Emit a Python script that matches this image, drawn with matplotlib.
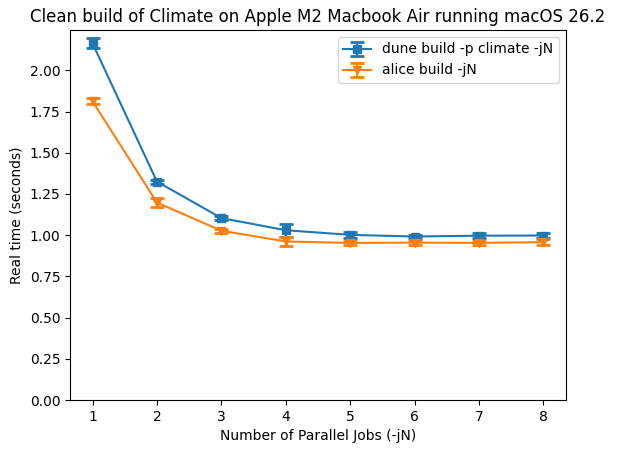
import matplotlib
matplotlib.use("Agg")
import matplotlib.pyplot as plt
from matplotlib.ticker import MultipleLocator

jobs = [1, 2, 3, 4, 5, 6, 7, 8]
dune_mean = [2.164, 1.325, 1.104, 1.030, 1.002, 0.992, 0.997, 0.998]
dune_err = [0.03, 0.012, 0.012, 0.038, 0.018, 0.012, 0.015, 0.015]
alice_mean = [1.812, 1.198, 1.027, 0.962, 0.953, 0.955, 0.953, 0.958]
alice_err = [0.018, 0.027, 0.012, 0.025, 0.012, 0.015, 0.012, 0.02]

fig = plt.figure(figsize=(6.17, 4.53), dpi=100)
ax = fig.add_axes([70/617, 1-400/453, (566-70)/617, (400-30)/453])
ax.errorbar(jobs, dune_mean, yerr=dune_err, marker='s', capsize=5, capthick=2,
            label='dune build -p climate -jN')
ax.errorbar(jobs, alice_mean, yerr=alice_err, marker='v', capsize=5, capthick=2,
            label='alice build -jN')
ax.set_ylim(0, 2.245)
ax.yaxis.set_major_locator(MultipleLocator(0.25))
ax.set_xlabel('Number of Parallel Jobs (-jN)')
ax.set_ylabel('Real time (seconds)')
ax.set_title('Clean build of Climate on Apple M2 Macbook Air running macOS 26.2')
ax.legend()
fig.savefig('out.png', dpi=100)
